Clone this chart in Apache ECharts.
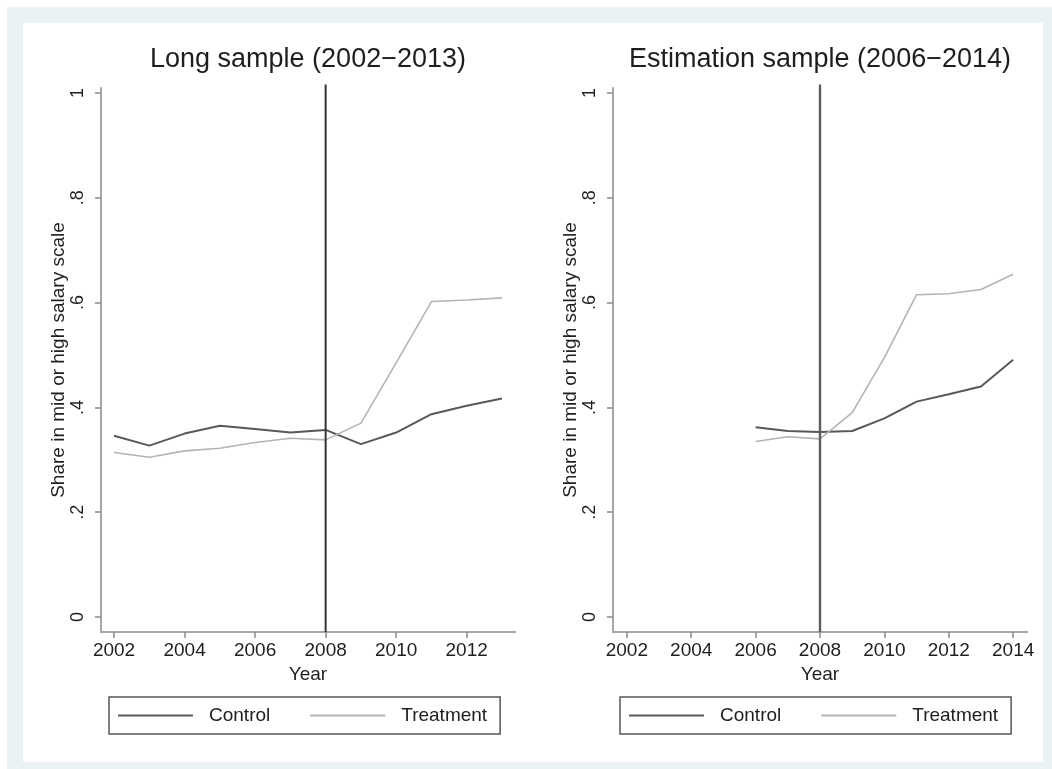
<!DOCTYPE html>
<html>
<head>
<meta charset="utf-8">
<script src="https://cdn.jsdelivr.net/npm/echarts@6/dist/echarts.min.js"></script>
<style>
  html, body { margin: 0; padding: 0; background: #ffffff; }
  #chart { width: 1052px; height: 769px; }
</style>
</head>
<body>
<div id="chart"></div>
<script>
// Long sample, 2002-2013
const yearsLong = [2002, 2003, 2004, 2005, 2006, 2007, 2008, 2009, 2010, 2011, 2012, 2013];
const controlLong = [0.346, 0.327, 0.350, 0.365, 0.359, 0.352, 0.357, 0.330, 0.352, 0.387, 0.403, 0.417];
const treatmentLong = [0.314, 0.305, 0.317, 0.322, 0.333, 0.341, 0.338, 0.370, 0.485, 0.602, 0.605, 0.609];

// Estimation sample, 2006-2014
const yearsEst = [2006, 2007, 2008, 2009, 2010, 2011, 2012, 2013, 2014];
const controlEst = [0.362, 0.355, 0.353, 0.355, 0.379, 0.411, 0.425, 0.440, 0.491];
const treatmentEst = [0.335, 0.344, 0.340, 0.390, 0.495, 0.615, 0.617, 0.625, 0.654];

// Axis ticks and the reform year
const yTicks = [0, 0.2, 0.4, 0.6, 0.8, 1];
const xTicksLong = [2002, 2004, 2006, 2008, 2010, 2012];
const xTicksEst = [2002, 2004, 2006, 2008, 2010, 2012, 2014];
const reformYear = 2008;

const titles = ['Long sample (2002\u22122013)', 'Estimation sample (2006\u22122014)'];
const seriesNames = ['Control', 'Treatment'];
const yTitle = 'Share in mid or high salary scale';
const xTitle = 'Year';

const FONT = '"Liberation Sans", Arial, Helvetica, sans-serif';
const TEXT = '#1e1e1e';
const Y_MIN = -0.0286, Y_MAX = 1.0095;

function fmtY(v) {
  if (Math.abs(v) < 1e-9) return '0';
  if (Math.abs(v - 1) < 1e-9) return '1';
  return String(Math.round(v * 10) / 10).replace(/^0/, '');
}

function pairs(xs, ys) { return xs.map((x, i) => [x, ys[i]]); }

function yAxis(idx) {
  return {
    type: 'value', gridIndex: idx, min: Y_MIN, max: Y_MAX,
    name: yTitle, nameLocation: 'middle', nameRotate: 90, nameGap: 31,
    nameTextStyle: { fontFamily: FONT, fontSize: 19, color: TEXT },
    axisLine: { show: true, lineStyle: { color: '#a6a6a6', width: 2 } },
    axisTick: { show: true, length: 6, customValues: yTicks, lineStyle: { color: '#8a8a8a', width: 1.5 } },
    axisLabel: { customValues: yTicks, formatter: fmtY, rotate: 90, margin: 14,
      fontFamily: FONT, fontSize: 18, color: TEXT },
    splitLine: { show: false }
  };
}

function xAxis(idx, min, max, ticks) {
  return {
    type: 'value', gridIndex: idx, min: min, max: max,
    name: xTitle, nameLocation: 'middle', nameGap: 29,
    nameTextStyle: { fontFamily: FONT, fontSize: 19, color: TEXT },
    axisLine: { show: true, onZero: false, lineStyle: { color: '#a6a6a6', width: 2 } },
    axisTick: { show: true, length: 6, customValues: ticks, lineStyle: { color: '#8a8a8a', width: 1.5 } },
    axisLabel: { customValues: ticks, formatter: v => String(v), margin: 9,
      fontFamily: FONT, fontSize: 19, color: TEXT },
    splitLine: { show: false }
  };
}

function lineSeries(name, idx, xs, ys, color, width) {
  return {
    type: 'line', name: name, xAxisIndex: idx, yAxisIndex: idx,
    data: pairs(xs, ys), symbol: 'none', animation: false, z: 3,
    color: color, itemStyle: { color: color },
    lineStyle: { color: color, width: width }
  };
}

function reformLine(idx, color, width) {
  return {
    type: 'line', xAxisIndex: idx, yAxisIndex: idx, clip: false,
    data: [[reformYear, Y_MIN], [reformYear, 1.016]], symbol: 'none', animation: false, z: 4,
    lineStyle: { color: color, width: width }, silent: true, legendHoverLink: false
  };
}

function legend(left) {
  return {
    left: left, top: 697, orient: 'horizontal',
    data: seriesNames.map(n => ({ name: n, icon: 'rect' })),
    itemWidth: 75, itemHeight: 2, itemGap: 40,
    padding: [9, 13, 9, 9],
    borderColor: '#555555', borderWidth: 1.5, borderRadius: 0,
    selectedMode: false,
    textStyle: { fontFamily: FONT, fontSize: 19, color: TEXT, padding: [0, 0, 0, 11] }
  };
}

const CONTROL = '#585858', TREAT = '#b4b4b4';

const option = {
  backgroundColor: '#ffffff',
  animation: false,
  graphic: [
    { type: 'rect', z: -10, shape: { x: 7, y: 7, width: 1045, height: 762 }, style: { fill: '#eaf2f3' }, silent: true },
    { type: 'rect', z: -9, shape: { x: 23, y: 23, width: 1020, height: 739 }, style: { fill: '#ffffff' }, silent: true }
  ],
  title: [
    { text: titles[0], left: 308, top: 46, textAlign: 'center', padding: 0,
      textStyle: { fontFamily: FONT, fontSize: 27, fontWeight: 'normal', color: TEXT } },
    { text: titles[1], left: 820, top: 46, textAlign: 'center', padding: 0,
      textStyle: { fontFamily: FONT, fontSize: 27, fontWeight: 'normal', color: TEXT } }
  ],
  legend: [legend(109), legend(620)],
  grid: [
    { left: 101, right: 537, top: 88, bottom: 137, containLabel: false },
    { left: 613, right: 25, top: 88, bottom: 137, containLabel: false }
  ],
  xAxis: [xAxis(0, 2001.63, 2013.37, xTicksLong), xAxis(1, 2001.57, 2014.43, xTicksEst)],
  yAxis: [yAxis(0), yAxis(1)],
  series: [
    lineSeries(seriesNames[0], 0, yearsLong, controlLong, CONTROL, 2),
    lineSeries(seriesNames[1], 0, yearsLong, treatmentLong, TREAT, 1.6),
    reformLine(0, '#333333', 2),
    lineSeries(seriesNames[0], 1, yearsEst, controlEst, CONTROL, 2),
    lineSeries(seriesNames[1], 1, yearsEst, treatmentEst, TREAT, 1.6),
    reformLine(1, '#5e5e5e', 2.4)
  ]
};

const chart = echarts.init(document.getElementById('chart'), null, { renderer: 'canvas' });
chart.setOption(option);
</script>
</body>
</html>
